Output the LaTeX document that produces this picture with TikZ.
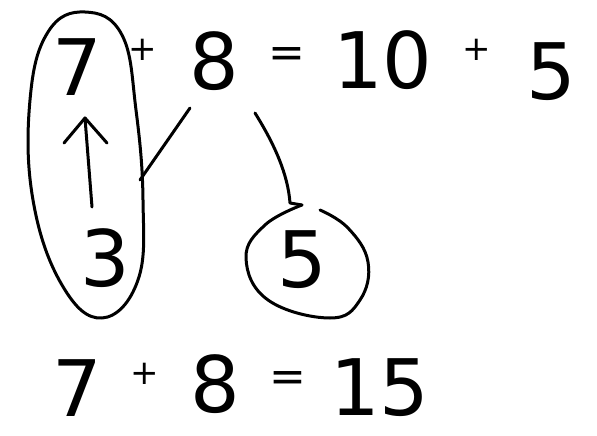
\documentclass[tikz,border=0pt]{standalone}
\usepackage{fontspec}
\setmainfont{DejaVu Sans}
\usetikzlibrary{arrows.meta}
\begin{document}
\begin{tikzpicture}[x=1pt,y=-1pt,
  digit/.style={inner sep=0pt,font=\fontsize{78}{78}\selectfont},
  small/.style={inner sep=0pt,font=\fontsize{34}{34}\selectfont},
  eqsign/.style={inner sep=0pt,font=\fontsize{44}{44}\selectfont},
  pen/.style={line width=3pt,line cap=round,line join=round}]
\useasboundingbox[fill=white] (0,0) rectangle (597,436);
% top line
\node[digit] (t7) at (77,67) {7};
\node[small] (tp1) at (143,50) {+};
\node[digit] (t8) at (214,61) {8};
\node[eqsign] (teq) at (287,58) {=};
\node[digit] (t10) at (383,60) {10};
\node[small] (tp2) at (477,50) {+};
\node[digit] (t5) at (551,72) {5};
% middle
\node[digit] (m3) at (105,258) {3};
\node[digit] (m5) at (302,260) {5};
% bottom line
\node[digit] (b7) at (77,388) {7};
\node[small] (bp) at (145,374) {+};
\node[digit] (b8) at (215,384) {8};
\node[eqsign] (beq) at (288,382) {=};
\node[digit] (b15) at (380,388) {15};
% oval around 7 and 3
\draw[pen] plot[smooth cycle,tension=0.7] coordinates
  {(85,12) (122,35) (136,110) (143,200) (138,280) (102,318) (62,285) (33,200) (30,100) (48,32)};
% circle around 5
\draw[pen] plot[smooth,tension=0.7] coordinates
  {(302,205) (265,225) (246,258) (268,300) (330,318) (360,300) (368,262) (348,228) (320,210)};
% arrow 3 -> 7
\coordinate (abot) at (92,207);
\coordinate (atop) at (85,118);
\draw[pen] (abot) -- (atop);
\draw[pen] (64,143) -- (atop) -- (107,143);
% lines from 8
\coordinate (l1a) at (190,108);
\coordinate (l1b) at (140,180);
\draw[pen] (l1a) -- (l1b);
\coordinate (l2a) at (255,113);
\coordinate (l2b) at (290,203);
\draw[pen] (l2a) .. controls (275,145) and (288,175) .. (l2b) -- (302,205);
\end{tikzpicture}
\end{document}
